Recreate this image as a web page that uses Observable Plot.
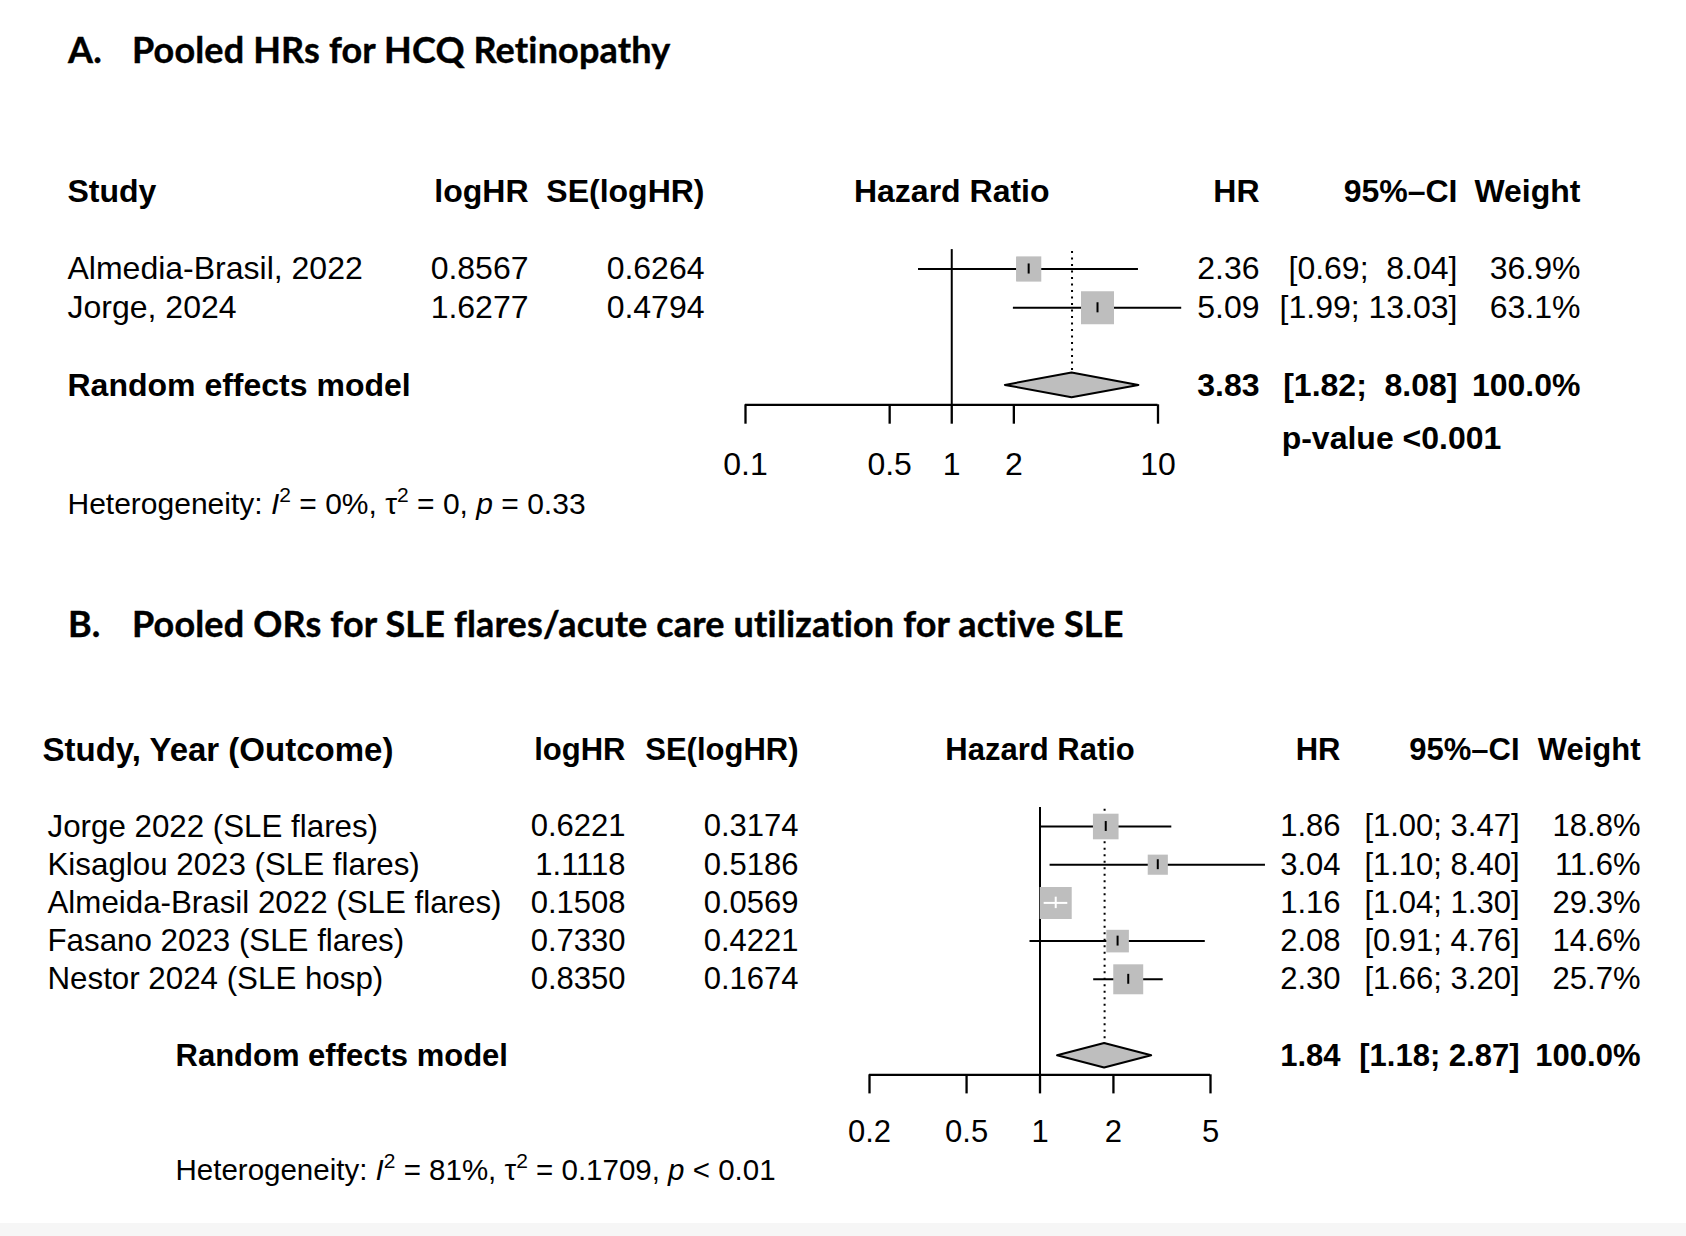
<!DOCTYPE html>
<html>
<head>
<meta charset="utf-8">
<script src="https://cdn.jsdelivr.net/npm/d3@7"></script>
<script src="https://cdn.jsdelivr.net/npm/@observablehq/plot@0.6"></script>
<style>
  html, body { margin: 0; padding: 0; background: #fff; }
  #page { position: relative; width: 1686px; height: 1236px; overflow: hidden; background: #fff; }
  .title { position: absolute; font-family: Lato, "Open Sans", sans-serif; font-weight: 700; font-size: 36px; line-height: 1; color: #000; white-space: nowrap; letter-spacing: 0.15px; -webkit-text-stroke: 0.4px #000; }
  #page svg { position: absolute; left: 0; }
  #page svg text { white-space: pre; }
  #band { position: absolute; left: 0; width: 1686px; top: 1223px; height: 13px; background: #f6f6f6; }
</style>
</head>
<body>
<div id="page"><div id="band"></div></div>
<script>
// ---------- Panel A data ----------
const titleA = ["A.", "Pooled HRs for HCQ Retinopathy"];
const headersA = ["Study", "logHR", "SE(logHR)", "Hazard Ratio", "HR", "95%–CI", "Weight"];
const studiesA = ["Almedia-Brasil, 2022", "Jorge, 2024"];
const logHRA = [0.8567, 1.6277];
const seLogHRA = [0.6264, 0.4794];
const hrA = [2.36, 5.09];
const lowerA = [0.69, 1.99];
const upperA = [8.04, 13.03];
const weightA = [36.9, 63.1];
const pooledA = [3.83, 1.82, 8.08];          // HR, lower, upper
const ticksA = [0.1, 0.5, 1, 2, 10];
const hetA = ["0%", "0", "= 0.33"];          // I², tau², p
const pValueA = "p-value <0.001";

// ---------- Panel B data ----------
const titleB = ["B.", "Pooled ORs for SLE flares/acute care utilization for active SLE"];
const headersB = ["Study, Year (Outcome)", "logHR", "SE(logHR)", "Hazard Ratio", "HR", "95%–CI", "Weight"];
const studiesB = ["Jorge 2022 (SLE flares)", "Kisaglou 2023 (SLE flares)", "Almeida-Brasil 2022 (SLE flares)", "Fasano 2023 (SLE flares)", "Nestor 2024 (SLE hosp)"];
const logHRB = [0.6221, 1.1118, 0.1508, 0.7330, 0.8350];
const seLogHRB = [0.3174, 0.5186, 0.0569, 0.4221, 0.1674];
const hrB = [1.86, 3.04, 1.16, 2.08, 2.30];
const lowerB = [1.00, 1.10, 1.04, 0.91, 1.66];
const upperB = [3.47, 8.40, 1.30, 4.76, 3.20];
const weightB = [18.8, 11.6, 29.3, 14.6, 25.7];
const pooledB = [1.84, 1.18, 2.87];
const ticksB = [0.2, 0.5, 1, 2, 5];
const hetB = ["81%", "0.1709", "< 0.01"];

const reLabel = "Random effects model";
const fontFamily = '"Liberation Sans", Arial, Helvetica, sans-serif';
const gray = "#bebebe";

// ---------- layout (positions / styles) ----------
const LA = {top: 0, height: 560, xDomain: [0.1, 10], xRange: [745, 1157.5], yRange: [268.5, 307.3],
  sideMax: 33, fontSize: 32, headSize: 32, studySize: 32, hetSize: 30, labelRow: 2.05, hetRow: 3.06, pRow: 1.37,
  col: {studyHead: 67, study: 67, re: 67, het: 67, logHR: 528, se: 704, hr: 1259, ci: 1457, w: 1580, pval: 1391},
  titleTop: 31};
const LB = {top: 560, height: 676, xDomain: [0.2, 5], xRange: [869, 1210], yRange: [266, 304.2],
  sideMax: 32, fontSize: 31, headSize: 33, studySize: 31.3, hetSize: 29.5, labelRow: 2.0, hetRow: 3.0,
  col: {studyHead: 42, study: 47, re: 175, het: 175, logHR: 625, se: 798, hr: 1340, ci: 1519, w: 1640},
  titleTop: 605};

function forest(p, L) {
  const n = p.studies.length;
  const reRow = n + 2;
  const f2 = v => v.toFixed(2);
  const wLo = d3.max([...p.lower, p.pooled[1]], v => f2(v).length);
  const wHi = d3.max([...p.upper, p.pooled[2]], v => f2(v).length);
  const ci = (lo, hi) => `[${f2(lo).padStart(wLo)}; ${f2(hi).padStart(wHi)}]`;
  const wmax = d3.max(p.weight);
  const rMax = L.sideMax / Math.sqrt(Math.PI);
  const xs = d3.scaleLog().domain(L.xDomain).range(L.xRange);
  const table = p.studies.map((s, i) => {
    const d = {row: i + 1, study: s, logHR: p.logHR[i].toFixed(4), se: p.se[i].toFixed(4),
      hr: p.hr[i], lo: p.lower[i], hi: p.upper[i], w: p.weight[i]};
    d.hrText = f2(d.hr); d.ci = ci(d.lo, d.hi); d.wText = d.w.toFixed(1) + "%";
    d.inside = (xs(d.hi) - xs(d.lo)) < L.sideMax * Math.sqrt(d.w / wmax);
    return d;
  });
  const pooled = [{row: reRow, hr: p.pooled[0], lo: p.pooled[1], hi: p.pooled[2],
    hrText: f2(p.pooled[0]), ci: ci(p.pooled[1], p.pooled[2]), wText: d3.sum(p.weight).toFixed(1) + "%"}];
  const dh = 0.32;
  const diamond = [
    {x: p.pooled[1], y1: reRow, y2: reRow},
    {x: p.pooled[0], y1: reRow - dh, y2: reRow + dh},
    {x: p.pooled[2], y1: reRow, y2: reRow}
  ];
  const axisRow = reRow + 0.5;
  const C = L.col;
  const colText = (data, text, x, anchor, extra = {}) =>
    Plot.text(data, {y: "row", text, frameAnchor: "left", dx: x, textAnchor: anchor, ...extra});
  const head = (label, x, anchor, extra = {}) =>
    Plot.text([label], {y: () => -1, text: d => d, frameAnchor: "left", dx: x, textAnchor: anchor, fontWeight: "bold", ...extra});
  const hetString = `Heterogeneity: I2 = ${p.het[0]}, τ2 = ${p.het[1]}, p ${p.het[2]}`;

  const marks = [
    Plot.ruleX([1], {x: d => d, y1: 0.5, y2: axisRow, stroke: "black", strokeWidth: 2}),
    Plot.ruleX([p.pooled[0]], {x: d => d, y1: 0.55, y2: reRow - dh, stroke: "black", strokeWidth: 2, strokeDasharray: "2,4.5"}),
    Plot.ruleY(table.filter(d => !d.inside), {y: "row", x1: "lo", x2: "hi", stroke: "black", strokeWidth: 2}),
    Plot.dot(table, {x: "hr", y: "row", r: "w", symbol: "square", fill: gray, stroke: null}),
    Plot.ruleX(table.filter(d => !d.inside), {x: "hr", y1: d => d.row - 0.13, y2: d => d.row + 0.13, stroke: "black", strokeWidth: 2}),
    Plot.ruleY(table.filter(d => d.inside), {y: "row", x1: "lo", x2: "hi", stroke: "white", strokeWidth: 2}),
    Plot.ruleX(table.filter(d => d.inside), {x: "hr", y1: d => d.row - 0.15, y2: d => d.row + 0.15, stroke: "white", strokeWidth: 2}),
    Plot.areaY(diamond, {x: "x", y1: "y1", y2: "y2", fill: gray, stroke: "black", strokeWidth: 2, curve: "linear"}),
    Plot.ruleY([axisRow], {y: d => d, x1: p.ticks[0], x2: p.ticks[p.ticks.length - 1], stroke: "black", strokeWidth: 2.3}),
    Plot.ruleX(p.ticks, {x: d => d, y1: axisRow, y2: reRow + 1, stroke: "black", strokeWidth: 2.3}),
    Plot.text(p.ticks, {x: d => d, y: () => reRow + L.labelRow, text: d => String(d)}),
    head(p.headers[0], C.studyHead, "start", {fontSize: L.headSize}),
    head(p.headers[1], C.logHR, "end"),
    head(p.headers[2], C.se, "end"),
    Plot.text([p.headers[3]], {x: () => 1, y: () => -1, text: d => d, fontWeight: "bold", textAnchor: "middle"}),
    head(p.headers[4], C.hr, "end"),
    head(p.headers[5], C.ci, "end"),
    head(p.headers[6], C.w, "end"),
    colText(table, "study", C.study, "start", {fontSize: L.studySize}),
    colText(table, "logHR", C.logHR, "end"),
    colText(table, "se", C.se, "end"),
    colText(table, "hrText", C.hr, "end"),
    colText(table, "ci", C.ci, "end"),
    colText(table, "wText", C.w, "end"),
    colText(pooled, () => reLabel, C.re, "start", {fontWeight: "bold"}),
    colText(pooled, "hrText", C.hr, "end", {fontWeight: "bold"}),
    colText(pooled, "ci", C.ci, "end", {fontWeight: "bold"}),
    colText(pooled, "wText", C.w, "end", {fontWeight: "bold"}),
    Plot.text([hetString], {y: () => reRow + L.hetRow, text: d => d, frameAnchor: "left", dx: C.het, textAnchor: "start", fontSize: L.hetSize, className: "het"})
  ];
  if (p.pValue) {
    marks.push(Plot.text([p.pValue], {y: () => reRow + L.pRow, text: d => d, frameAnchor: "left", dx: C.pval, textAnchor: "middle", fontWeight: "bold"}));
  }

  const svg = Plot.plot({
    width: 1686,
    height: L.height,
    margin: 0,
    x: {type: "log", domain: L.xDomain, range: L.xRange, axis: null},
    y: {type: "linear", domain: [1, 2], range: L.yRange, axis: null},
    r: {type: "sqrt", domain: [0, wmax], range: [0, rMax]},
    style: {fontFamily, fontSize: L.fontSize + "px", color: "black", background: "transparent", overflow: "visible"},
    marks
  });
  svg.setAttributeNS("http://www.w3.org/XML/1998/namespace", "xml:space", "preserve");
  svg.style.top = L.top + "px";

  const NS = "http://www.w3.org/2000/svg";
  svg.querySelectorAll("g.het text").forEach(t => {
    t.textContent = "";
    const sz = L.hetSize, up = Math.round(sz * 0.4), small = Math.round(sz * 0.7);
    const parts = [
      ["Heterogeneity: "], ["I", {"font-style": "italic"}], ["2", {dy: -up, "font-size": small}],
      [` = ${p.het[0]}, τ`, {dy: up}], ["2", {dy: -up, "font-size": small}],
      [` = ${p.het[1]}, `, {dy: up}], ["p", {"font-style": "italic"}], [` ${p.het[2]}`]
    ];
    for (const [s, attrs = {}] of parts) {
      const ts = document.createElementNS(NS, "tspan");
      for (const k in attrs) ts.setAttribute(k, attrs[k]);
      ts.textContent = s;
      t.appendChild(ts);
    }
  });
  return svg;
}

const page = document.getElementById("page");
function addTitle(parts, top) {
  const a = document.createElement("div");
  a.className = "title"; a.style.left = "68px"; a.style.top = top + "px"; a.textContent = parts[0];
  const b = document.createElement("div");
  b.className = "title"; b.style.left = "132px"; b.style.top = top + "px"; b.textContent = parts[1];
  page.append(a, b);
}

page.append(forest({studies: studiesA, headers: headersA, logHR: logHRA, se: seLogHRA, hr: hrA,
  lower: lowerA, upper: upperA, weight: weightA, pooled: pooledA, ticks: ticksA, het: hetA, pValue: pValueA}, LA));
page.append(forest({studies: studiesB, headers: headersB, logHR: logHRB, se: seLogHRB, hr: hrB,
  lower: lowerB, upper: upperB, weight: weightB, pooled: pooledB, ticks: ticksB, het: hetB}, LB));
addTitle(titleA, LA.titleTop);
addTitle(titleB, LB.titleTop);
</script>
</body>
</html>
